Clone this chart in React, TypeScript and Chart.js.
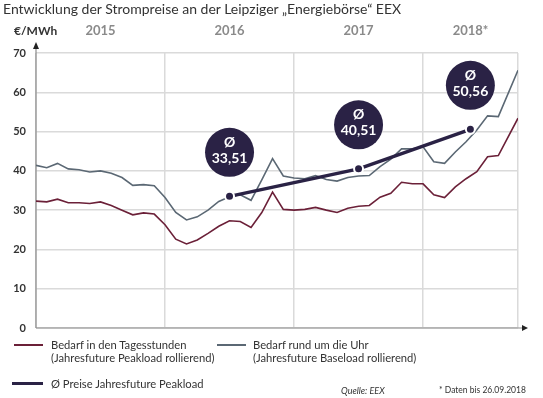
import React, { useEffect, useRef } from "react";
import { Chart, registerables } from "chart.js";

Chart.register(...registerables);

// Month index since Jan 2015 (last point = 26.09.2018)
const months = [
  0, 1, 2, 3, 4, 5, 6, 7, 8, 9, 10, 11, 12, 13, 14, 15, 16, 17, 18, 19, 20, 21,
  22, 23, 24, 25, 26, 27, 28, 29, 30, 31, 32, 33, 34, 35, 36, 37, 38, 39, 40,
  41, 42, 43, 44.83,
];

// Bedarf in den Tagesstunden (Jahresfuture Peakload rollierend)
const peakload = [
  32.3, 32.1, 32.8, 31.9, 31.9, 31.7, 32.1, 31.2, 30.0, 28.8,
  29.3, 29.0, 26.3, 22.6, 21.4, 22.4, 24.1, 25.9, 27.3, 27.1,
  25.6, 29.4, 34.6, 30.2, 30.0, 30.2, 30.7, 30.0, 29.4, 30.5,
  31.0, 31.2, 33.3, 34.3, 37.1, 36.7, 36.7, 33.9, 33.2, 35.9,
  38.0, 39.8, 43.6, 43.9, 53.4,
];

// Bedarf rund um die Uhr (Jahresfuture Baseload rollierend)
const baseload = [
  41.4, 40.8, 41.9, 40.5, 40.3, 39.7, 40.0, 39.4, 38.3, 36.3,
  36.5, 36.2, 33.2, 29.4, 27.5, 28.3, 30.0, 32.2, 33.4, 33.9,
  32.5, 37.7, 43.1, 38.7, 38.2, 38.0, 38.8, 37.8, 37.4, 38.3,
  38.7, 38.8, 41.1, 43.0, 45.6, 45.6, 46.1, 42.3, 41.9, 44.8,
  47.4, 50.4, 54.0, 53.8, 65.6,
];

// Ø Preise Jahresfuture Peakload
const avgMonths = [18, 30, 40.4];
const avgValues = [33.51, 40.51, 50.56];
const avgLabels = ["33,51", "40,51", "50,56"];

const yearLabels = ["2015", "2016", "2017", "2018*"];
const yearBounds = [0, 12, 24, 36, 44.83];
const yTicks = [0, 10, 20, 30, 40, 50, 60, 70];

const RED = "#6b2038";
const GRAY = "#5b6874";
const NAVY = "#2a2245";
const FONT = "Lato, 'Open Sans', sans-serif";

const decorPlugin = {
  id: "decor",
  beforeDatasetsDraw(chart: any) {
    const { ctx, chartArea, scales } = chart;
    const { left, right, top, bottom } = chartArea;
    const x = scales.x;
    ctx.save();
    // axes
    ctx.strokeStyle = "#8e8e8e";
    ctx.lineWidth = 1.2;
    ctx.beginPath();
    ctx.moveTo(left, bottom);
    ctx.lineTo(left, top - 6);
    ctx.moveTo(left, bottom);
    ctx.lineTo(right + 6, bottom);
    ctx.stroke();
    // arrow heads
    ctx.fillStyle = "#222";
    ctx.beginPath();
    ctx.moveTo(left, top - 11);
    ctx.lineTo(left - 3, top - 4);
    ctx.lineTo(left + 3, top - 4);
    ctx.closePath();
    ctx.fill();
    ctx.beginPath();
    ctx.moveTo(right + 10, bottom);
    ctx.lineTo(right + 4, bottom - 3);
    ctx.lineTo(right + 4, bottom + 3);
    ctx.closePath();
    ctx.fill();
    // unit + year labels
    ctx.textBaseline = "middle";
    ctx.fillStyle = "#333";
    ctx.font = `bold 12px ${FONT}`;
    ctx.textAlign = "left";
    ctx.fillText("€/MWh", 14, 31);
    ctx.fillStyle = "#8a8a8a";
    ctx.font = `bold 13px ${FONT}`;
    ctx.textAlign = "center";
    for (let i = 0; i < yearLabels.length; i++) {
      const cx =
        (x.getPixelForValue(yearBounds[i]) + x.getPixelForValue(yearBounds[i + 1])) / 2;
      ctx.fillText(yearLabels[i], cx, 31);
    }
    ctx.restore();
  },
  afterDatasetsDraw(chart: any) {
    const { ctx, scales } = chart;
    const x = scales.x;
    const y = scales.y;
    ctx.save();
    for (let i = 0; i < avgMonths.length; i++) {
      const px = x.getPixelForValue(avgMonths[i]);
      const py = y.getPixelForValue(avgValues[i]) - 44;
      ctx.fillStyle = NAVY;
      ctx.beginPath();
      ctx.arc(px, py, 24.5, 0, Math.PI * 2);
      ctx.fill();
      ctx.fillStyle = "#fff";
      ctx.textAlign = "center";
      ctx.textBaseline = "middle";
      ctx.font = `bold 14px ${FONT}`;
      ctx.fillText("Ø", px, py - 10);
      ctx.fillText(avgLabels[i], px, py + 6);
    }
    ctx.restore();
  },
};

export default function App() {
  const ref = useRef<HTMLCanvasElement>(null);

  useEffect(() => {
    if (!ref.current) return;
    const chart = new Chart(ref.current, {
      type: "line",
      data: {
        datasets: [
          {
            label: "Ø Preise Jahresfuture Peakload",
            data: avgMonths.map((m, i) => ({ x: m, y: avgValues[i] })),
            borderColor: NAVY,
            borderWidth: 3.5,
            pointRadius: 4.5,
            pointBackgroundColor: NAVY,
            pointBorderColor: "#fff",
            pointBorderWidth: 2,
            tension: 0,
          },
          {
            label: "Bedarf in den Tagesstunden",
            data: months.map((m, i) => ({ x: m, y: peakload[i] })),
            borderColor: RED,
            borderWidth: 1.6,
            pointRadius: 0,
            tension: 0,
          },
          {
            label: "Bedarf rund um die Uhr",
            data: months.map((m, i) => ({ x: m, y: baseload[i] })),
            borderColor: GRAY,
            borderWidth: 1.6,
            pointRadius: 0,
            tension: 0,
          },
        ],
      },
      options: {
        responsive: false,
        animation: false,
        devicePixelRatio: 1,
        layout: { padding: { left: 0, top: 53, right: 25, bottom: 70 } },
        plugins: {
          legend: { display: false },
          tooltip: { enabled: false },
          title: { display: false },
        },
        scales: {
          x: {
            type: "linear",
            min: yearBounds[0],
            max: yearBounds[yearBounds.length - 1],
            afterBuildTicks: (scale: any) => {
              scale.ticks = yearBounds.map((v) => ({ value: v }));
            },
            afterFit: (scale: any) => {
              scale.height = 0;
            },
            ticks: { display: false },
            grid: { color: "#dadada", lineWidth: 1.5, drawTicks: false },
            border: { display: false },
          },
          y: {
            min: 0,
            max: 70,
            afterBuildTicks: (scale: any) => {
              scale.ticks = yTicks.map((v) => ({ value: v }));
            },
            afterFit: (scale: any) => {
              scale.width = 36;
            },
            ticks: {
              padding: 10,
              color: "#333",
              font: { family: FONT, size: 11, weight: "bold" },
            },
            grid: { color: "#dadada", lineWidth: 1.5, drawTicks: false },
            border: { display: false },
          },
        },
      },
      plugins: [decorPlugin],
    } as any);
    return () => chart.destroy();
  }, []);

  const legendText: React.CSSProperties = {
    position: "absolute",
    fontSize: 11.2,
    lineHeight: "13px",
    color: "#333",
    whiteSpace: "nowrap",
  };

  return (
    <div
      style={{
        position: "absolute",
        left: 0,
        top: 0,
        width: 543,
        height: 398,
        background: "#fff",
        fontFamily: FONT,
        color: "#333",
        overflow: "hidden",
      }}
    >
      <canvas
        ref={ref}
        width={543}
        height={398}
        style={{ position: "absolute", left: 0, top: 0, width: 543, height: 398 }}
      />
      <div style={{ position: "absolute", left: 3, top: 0, fontSize: 14, lineHeight: "17px", whiteSpace: "nowrap" }}>
        Entwicklung der Strompreise an der Leipziger „Energiebörse“ EEX
      </div>

      <div style={{ position: "absolute", left: 14, top: 343.5, width: 29, borderTop: `2px solid ${RED}` }} />
      <div style={{ ...legendText, left: 51, top: 338 }}>
        Bedarf in den Tagesstunden
        <br />
        (Jahresfuture Peakload rollierend)
      </div>

      <div style={{ position: "absolute", left: 217, top: 343.5, width: 29, borderTop: `2px solid ${GRAY}` }} />
      <div style={{ ...legendText, left: 253, top: 338 }}>
        Bedarf rund um die Uhr
        <br />
        (Jahresfuture Baseload rollierend)
      </div>

      <div style={{ position: "absolute", left: 12, top: 382, width: 31, borderTop: `3.5px solid ${NAVY}` }} />
      <div style={{ ...legendText, left: 51, top: 377 }}>Ø Preise Jahresfuture Peakload</div>

      <div style={{ ...legendText, left: 341, top: 384, fontSize: 9, fontStyle: "italic" }}>Quelle: EEX</div>
      <div style={{ ...legendText, left: 439, top: 384, fontSize: 8.5 }}>* Daten bis 26.09.2018</div>
    </div>
  );
}
